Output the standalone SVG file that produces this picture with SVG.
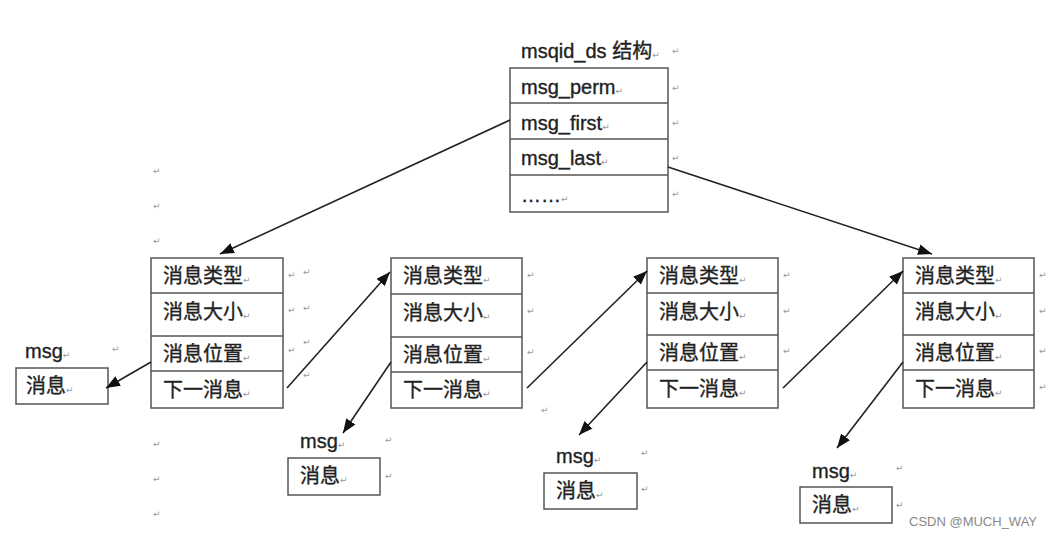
<svg xmlns="http://www.w3.org/2000/svg" width="1047" height="537" viewBox="0 0 1047 537">
<style>
.bx{fill:#fff;stroke:#555;stroke-width:1.5}
.ln{stroke:#555;stroke-width:1.5}
.t{font-family:"Liberation Sans","Noto Sans CJK SC",sans-serif;font-size:20px;fill:#222;stroke:#222;stroke-width:0.35}
.lb{font-family:"Liberation Sans","Noto Sans CJK SC",sans-serif;font-size:20px;fill:#222;stroke:#222;stroke-width:0.35}
.rm{font-family:"DejaVu Sans",sans-serif;font-size:9px;fill:#999;stroke:none}
.c{stroke:#222;stroke-width:1.6;fill:none;marker-end:url(#ah)}
.wm{font-family:"Liberation Sans",sans-serif;font-size:13px;fill:#888}
</style>
<defs>
<marker id="ah" markerUnits="userSpaceOnUse" markerWidth="16" markerHeight="12" refX="14" refY="5.5" orient="auto">
<path d="M0,0 L14,5.5 L0,11 z" fill="#111"/>
</marker>
</defs>
<rect width="1047" height="537" fill="#fff"/>

<g id="msqid_ds">
<text class="lb" x="521" y="58">msqid_ds 结构<tspan class="rm">↵</tspan></text>
<rect class="bx" x="510" y="68" width="158" height="144"/>
<line class="ln" x1="510" y1="103" x2="668" y2="103"/>
<line class="ln" x1="510" y1="139" x2="668" y2="139"/>
<line class="ln" x1="510" y1="175" x2="668" y2="175"/>
<text class="t" x="521" y="94">msg_perm<tspan class="rm">↵</tspan></text>
<text class="t" x="521" y="130">msg_first<tspan class="rm">↵</tspan></text>
<text class="t" x="521" y="165">msg_last<tspan class="rm">↵</tspan></text>
<text class="t" x="521" y="202">……<tspan class="rm">↵</tspan></text>
<text class="rm" x="672" y="54">↵</text>
<text class="rm" x="672" y="91">↵</text>
<text class="rm" x="672" y="126">↵</text>
<text class="rm" x="672" y="161">↵</text>
<text class="rm" x="672" y="197">↵</text>
</g>

<g id="node1">
<rect class="bx" x="151" y="258" width="132" height="150"/>
<line class="ln" x1="151" y1="293" x2="283" y2="293"/>
<line class="ln" x1="151" y1="336" x2="283" y2="336"/>
<line class="ln" x1="151" y1="371" x2="283" y2="371"/>
<text class="t" x="163" y="283">消息类型<tspan class="rm">↵</tspan></text>
<text class="t" x="163" y="319">消息大小<tspan class="rm">↵</tspan></text>
<text class="t" x="163" y="361">消息位置<tspan class="rm">↵</tspan></text>
<text class="t" x="163" y="397">下一消息<tspan class="rm">↵</tspan></text>
<text class="rm" x="288" y="278">↵</text><text class="rm" x="303" y="275">↵</text>
<text class="rm" x="288" y="313">↵</text><text class="rm" x="303" y="311">↵</text>
<text class="rm" x="288" y="353">↵</text><text class="rm" x="303" y="345">↵</text>
<text class="rm" x="303" y="378">↵</text>
</g>

<g id="node2">
<rect class="bx" x="391" y="258" width="131" height="150"/>
<line class="ln" x1="391" y1="294" x2="522" y2="294"/>
<line class="ln" x1="391" y1="337" x2="522" y2="337"/>
<line class="ln" x1="391" y1="372" x2="522" y2="372"/>
<text class="t" x="403" y="283">消息类型<tspan class="rm">↵</tspan></text>
<text class="t" x="403" y="320">消息大小<tspan class="rm">↵</tspan></text>
<text class="t" x="403" y="362">消息位置<tspan class="rm">↵</tspan></text>
<text class="t" x="403" y="397">下一消息<tspan class="rm">↵</tspan></text>
<text class="rm" x="527" y="278">↵</text>
<text class="rm" x="527" y="314">↵</text>
<text class="rm" x="527" y="355">↵</text>
</g>

<g id="node3">
<rect class="bx" x="647" y="258" width="131" height="150"/>
<line class="ln" x1="647" y1="293" x2="778" y2="293"/>
<line class="ln" x1="647" y1="335" x2="778" y2="335"/>
<line class="ln" x1="647" y1="370" x2="778" y2="370"/>
<text class="t" x="659" y="283">消息类型<tspan class="rm">↵</tspan></text>
<text class="t" x="659" y="319">消息大小<tspan class="rm">↵</tspan></text>
<text class="t" x="659" y="360">消息位置<tspan class="rm">↵</tspan></text>
<text class="t" x="659" y="396">下一消息<tspan class="rm">↵</tspan></text>
<text class="rm" x="783" y="278">↵</text>
<text class="rm" x="783" y="314">↵</text>
<text class="rm" x="783" y="354">↵</text>
</g>

<g id="node4">
<rect class="bx" x="903" y="258" width="131" height="150"/>
<line class="ln" x1="903" y1="293" x2="1034" y2="293"/>
<line class="ln" x1="903" y1="335" x2="1034" y2="335"/>
<line class="ln" x1="903" y1="370" x2="1034" y2="370"/>
<text class="t" x="915" y="283">消息类型<tspan class="rm">↵</tspan></text>
<text class="t" x="915" y="319">消息大小<tspan class="rm">↵</tspan></text>
<text class="t" x="915" y="360">消息位置<tspan class="rm">↵</tspan></text>
<text class="t" x="915" y="396">下一消息<tspan class="rm">↵</tspan></text>
<text class="rm" x="1039" y="278">↵</text>
<text class="rm" x="1039" y="314">↵</text>
<text class="rm" x="1039" y="354">↵</text>
<text class="rm" x="1039" y="390">↵</text>
</g>

<g id="msg1">
<text class="lb" x="25" y="358">msg<tspan class="rm">↵</tspan></text>
<text class="rm" x="112" y="352">↵</text>
<rect class="bx" x="16" y="368" width="92" height="36"/>
<text class="t" x="26" y="393">消息<tspan class="rm">↵</tspan></text>
</g>

<g id="msg2">
<text class="lb" x="300" y="448">msg<tspan class="rm">↵</tspan></text>
<text class="rm" x="385" y="443">↵</text>
<rect class="bx" x="288" y="458" width="92" height="37"/>
<text class="t" x="300" y="483">消息<tspan class="rm">↵</tspan></text>
<text class="rm" x="385" y="479">↵</text>
</g>

<g id="msg3">
<text class="lb" x="556" y="463">msg<tspan class="rm">↵</tspan></text>
<text class="rm" x="641" y="456">↵</text>
<rect class="bx" x="544" y="473" width="93" height="36"/>
<text class="t" x="556" y="498">消息<tspan class="rm">↵</tspan></text>
<text class="rm" x="641" y="492">↵</text>
</g>

<g id="msg4">
<text class="lb" x="812" y="478">msg<tspan class="rm">↵</tspan></text>
<text class="rm" x="896" y="471">↵</text>
<rect class="bx" x="800" y="487" width="92" height="36"/>
<text class="t" x="812" y="512">消息<tspan class="rm">↵</tspan></text>
<text class="rm" x="896" y="508">↵</text>
</g>

<g id="marks">
<text class="rm" x="153" y="174">↵</text>
<text class="rm" x="153" y="209">↵</text>
<text class="rm" x="153" y="244">↵</text>
<text class="rm" x="153" y="447">↵</text>
<text class="rm" x="153" y="482">↵</text>
<text class="rm" x="153" y="517">↵</text>
<text class="rm" x="541" y="413">↵</text>
</g>

<g id="connectors">
<path class="c" d="M510,120 L220,254"/>
<path class="c" d="M668,167 L932,254"/>
<path class="c" d="M151,362 L106,388"/>
<path class="c" d="M287,388 L390,272"/>
<path class="c" d="M391,362 L343,433"/>
<path class="c" d="M527,388 L647,271"/>
<path class="c" d="M647,362 L579,435"/>
<path class="c" d="M783,388 L903,271"/>
<path class="c" d="M903,362 L837,448"/>
</g>

<text class="wm" x="909" y="526">CSDN @MUCH_WAY</text>
</svg>
